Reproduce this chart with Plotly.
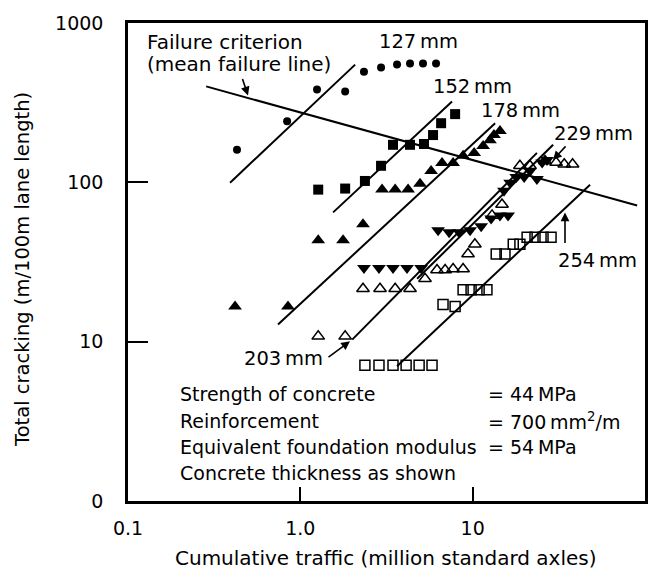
import plotly.graph_objects as go

# ---- data (log-log: cumulative traffic in msa vs total cracking m/100 m) ----
fail_x = [0.284, 90.0]
fail_y = [400, 71.6]

t127_x = [0.429, 0.838, 1.25, 1.82, 2.34, 2.94, 3.64, 4.33, 5.15, 6.13]
t127_y = [160, 242, 383, 372, 495, 525, 548, 556, 556, 556]
t127_fit_x = [0.391, 2.08]
t127_fit_y = [99.5, 548]

t152_x = [1.27, 1.82, 2.37, 2.94, 3.45, 4.33, 5.22, 5.89, 6.56, 7.91]
t152_y = [90, 91.4, 102, 127, 172, 172, 174, 198, 235, 268]
t152_fit_x = [1.55, 7.59]
t152_fit_y = [64.8, 322]

t178_x = [0.418, 0.848, 1.27, 1.77, 2.31, 2.98, 3.55, 4.22, 4.95, 5.74,
          6.64, 7.70, 8.80, 10.2, 11.5, 12.6, 13.3, 14.4]
t178_y = [16.6, 16.6, 43.3, 43.3, 54.5, 90, 90, 90, 98, 118,
          132, 132, 147, 153, 169, 184, 198, 210]
t178_fit_x = [0.742, 13.5]
t178_fit_y = [12.8, 235]

t203_x = [1.27, 1.82, 2.31, 2.90, 3.55, 4.33, 5.29, 6.21, 6.92, 7.70, 8.80,
          9.40, 10.3, 12.96, 14.8, 18.8, 21.5, 26.3, 30.5, 34.0, 38.0]
t203_y = [10.8, 10.8, 21.5, 21.5, 21.5, 21.5, 24.8, 28.2, 28.2, 28.6, 28.6,
          35.5, 40.9, 62.0, 72.6, 127, 127, 136, 133, 130, 130]
t203_fit_x = [2.0, 23.6]
t203_fit_y = [10.3, 153]

t229_x = [2.34, 2.86, 3.45, 4.16, 5.02, 6.30, 7.30, 8.34, 9.66, 11.2, 12.8,
          14.4, 16.05, 15.2, 16.5, 17.9, 19.9, 21.5, 23.6, 25.3, 27.0]
t229_y = [29.0, 29.0, 29.0, 29.0, 29.0, 50.0, 48.6, 48.6, 50.0, 53.0, 59.4,
          62.0, 62.0, 88.7, 99.5, 108, 108, 118, 105, 133, 138]
t229_fit_x = [4.76, 29.3]
t229_fit_y = [24.8, 172]

t254_x = [2.37, 2.86, 3.45, 4.11, 4.89, 5.81, 6.73, 7.91, 8.80, 9.79, 10.9,
          12.1, 13.7, 15.4, 17.2, 18.8, 20.7, 23.0, 25.6, 28.5]
t254_y = [7.12, 7.12, 7.12, 7.12, 7.12, 7.12, 17.1, 16.6, 21.2, 21.2, 21.2,
          21.2, 35.5, 35.5, 40.9, 40.9, 45.2, 45.2, 45.2, 45.2]
t254_fit_x = [3.64, 48.0]
t254_fit_y = [7.02, 96.7]

x_tickvals = [0.1, 1, 10, 100]
x_ticktext = ["0.1", "1.0", "10", "100"]
y_tickvals = [1, 10, 100, 1000]
y_ticktext = ["0", "10", "100", "1000"]

FONT = "DejaVu Sans"
INK = "black"

# plot-area geometry (pixels) used for placing text
L, R, T, B = 128, 16, 19, 70
W, H = 661, 571
PW, PH = W - L - R, H - T - B


def px(x):
    return (x - L) / PW


def py(y):
    return (H - B - y) / PH


fig = go.Figure()


def fit_line(xs, ys):
    fig.add_trace(go.Scatter(x=xs, y=ys, mode="lines",
                             line=dict(color=INK, width=2), hoverinfo="skip"))


def pts(xs, ys, symbol, size, lw=0):
    fig.add_trace(go.Scatter(x=xs, y=ys, mode="markers",
                             marker=dict(symbol=symbol, size=size, color=INK,
                                         line=dict(color=INK, width=lw))))


fit_line(fail_x, fail_y)
fit_line(t127_fit_x, t127_fit_y)
fit_line(t152_fit_x, t152_fit_y)
fit_line(t178_fit_x, t178_fit_y)
fit_line(t203_fit_x, t203_fit_y)
fit_line(t229_fit_x, t229_fit_y)
fit_line(t254_fit_x, t254_fit_y)

pts(t127_x, t127_y, "circle", 8)
pts(t152_x, t152_y, "square", 10)
pts(t178_x, t178_y, "triangle-up", 12)
pts(t203_x, t203_y, "triangle-up-open", 11, 1.5)
pts(t229_x, t229_y, "triangle-down", 12)
pts(t254_x, t254_y, "square-open", 10, 1.5)

annotations = []


def label(text, x, y, size=19.5, xanchor="left"):
    annotations.append(dict(text=text, x=px(x), y=py(y), xref="paper", yref="paper",
                            xanchor=xanchor, yanchor="middle", showarrow=False,
                            font=dict(family=FONT, size=size, color=INK)))


def arrow(hx, hy, tx, ty):
    annotations.append(dict(text="", x=px(hx), y=py(hy), xref="paper", yref="paper",
                            ax=tx - hx, ay=ty - hy, axref="pixel", ayref="pixel",
                            showarrow=True, arrowhead=2, arrowsize=1.1,
                            arrowwidth=1.6, arrowcolor=INK))


label("Failure criterion", 145, 38, 20)
label("(mean failure line)", 145, 60, 20)
arrow(248, 92, 242, 74)

label("127\u2009mm", 377, 38)
label("152\u2009mm", 431, 83)
label("178\u2009mm", 479, 107)
label("229\u2009mm", 552, 130)
arrow(553, 157, 567, 142)
label("254\u2009mm", 556, 258)
arrow(565, 210, 565, 242)
label("203\u2009mm", 242, 357)
arrow(350, 340, 327, 357)

label("Strength of concrete", 178, 393, 19)
label("Reinforcement", 178, 420, 19)
label("Equivalent foundation modulus", 178, 447, 19)
label("Concrete thickness as shown", 178, 473, 19)
label("= 44\u2009MPa", 486, 393, 19)
label("= 700\u2009mm<sup>2</sup>/m", 486, 420, 19)
label("= 54\u2009MPa", 486, 447, 19)

# axis titles
annotations.append(dict(text="Cumulative traffic (million standard axles)",
                        x=px(386), y=py(558), xref="paper", yref="paper",
                        xanchor="center", yanchor="middle", showarrow=False,
                        font=dict(family=FONT, size=20, color=INK)))
annotations.append(dict(text="Total cracking (m/100m lane length)",
                        x=px(23), y=py(268), xref="paper", yref="paper",
                        xanchor="center", yanchor="middle", showarrow=False,
                        textangle=-90, font=dict(family=FONT, size=19.5, color=INK)))

fig.update_layout(
    width=W, height=H,
    margin=dict(l=L, r=R, t=T, b=B),
    paper_bgcolor="white", plot_bgcolor="white",
    showlegend=False,
    annotations=annotations,
    font=dict(family=FONT, size=18, color=INK),
)

fig.update_xaxes(type="log", range=[-1, 2], tickvals=x_tickvals, ticktext=x_ticktext,
                 ticks="inside", ticklen=14, tickwidth=2, tickcolor=INK,
                 showline=True, linecolor=INK, linewidth=2.5, mirror=True,
                 showgrid=False, zeroline=False, ticklabelstandoff=8,
                 tickfont=dict(family=FONT, size=19, color=INK))
fig.update_yaxes(type="log", range=[0, 3], tickvals=y_tickvals, ticktext=y_ticktext,
                 ticks="inside", ticklen=20, tickwidth=2, tickcolor=INK,
                 showline=True, linecolor=INK, linewidth=2.5, mirror=True,
                 showgrid=False, zeroline=False, ticklabelstandoff=18,
                 tickfont=dict(family=FONT, size=19, color=INK))

fig.write_html("out.html")
